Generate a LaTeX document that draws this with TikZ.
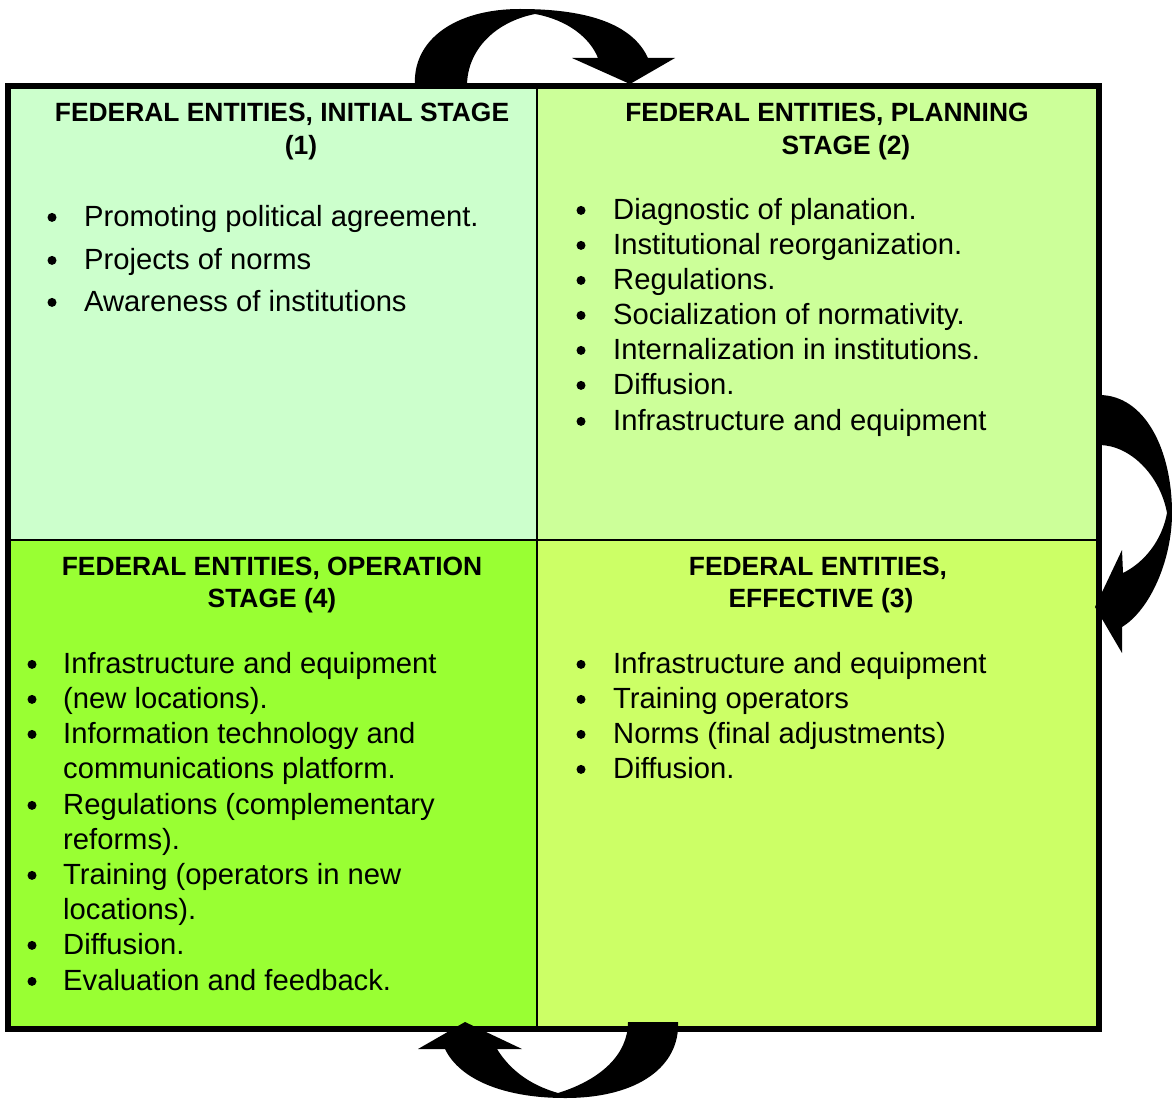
\documentclass[tikz,border=0pt]{standalone}
\usepackage{fontspec}
\setmainfont{Liberation Sans}
\definecolor{cTL}{HTML}{CCFFCC}
\definecolor{cTR}{HTML}{CCFF99}
\definecolor{cBL}{HTML}{99FF33}
\definecolor{cBR}{HTML}{CCFF66}
\begin{document}
\begin{tikzpicture}[x=1pt,y=-1pt,
  cell/.style={draw=black, line width=2pt, anchor=north west, inner sep=0pt, outer sep=0pt},
  ttl/.style={font=\fontsize{26.4}{30}\selectfont\bfseries, anchor=base, inner sep=0pt},
  itm/.style={font=\fontsize{29.2}{34}\selectfont, anchor=base west, inner sep=0pt},
  blt/.style={circle, fill=black, inner sep=0pt, minimum size=9pt, yshift=8.6pt},
  bigarrow/.style={fill=black}]
\useasboundingbox (0,0) rectangle (1172,1102);
% cells
\node[cell, fill=cTL, minimum width=529pt, minimum height=454pt] (tl) at (8,86) {};
\node[cell, fill=cTR, minimum width=562pt, minimum height=454pt] (tr) at (537,86) {};
\node[cell, fill=cBL, minimum width=529pt, minimum height=489pt] (bl) at (8,540) {};
\node[cell, fill=cBR, minimum width=562pt, minimum height=489pt] (br) at (537,540) {};
\draw[line width=6pt, line join=miter] (tl.north west) rectangle (br.south east);
% titles
\node[ttl] (tlt1) at (282,121.7) {FEDERAL ENTITIES, INITIAL STAGE};
\node[ttl] (tlt2) at (301,154.3) {(1)};
\node[ttl] (trt1) at (827,121.7) {FEDERAL ENTITIES, PLANNING};
\node[ttl] (trt2) at (846,154.3) {STAGE (2)};
\node[ttl] (blt1) at (272,575) {FEDERAL ENTITIES, OPERATION};
\node[ttl] (blt2) at (272,607.5) {STAGE (4)};
\node[ttl] (brt1) at (818,575) {FEDERAL ENTITIES,};
\node[ttl] (brt2) at (821,607.5) {EFFECTIVE (3)};
% top-left list
\node[blt] (tlb1) at (52,226) {};
\node[itm] (tli1) at (84,226) {Promoting political agreement.};
\node[blt] (tlb2) at (52,269) {};
\node[itm] (tli2) at (84,269) {Projects of norms};
\node[blt] (tlb3) at (52,311) {};
\node[itm] (tli3) at (84,311) {Awareness of institutions};
% top-right list
\node[blt] (trb1) at (581,219) {};
\node[itm] (tri1) at (613,219) {Diagnostic of planation.};
\node[blt] (trb2) at (581,254) {};
\node[itm] (tri2) at (613,254) {Institutional reorganization.};
\node[blt] (trb3) at (581,289) {};
\node[itm] (tri3) at (613,289) {Regulations.};
\node[blt] (trb4) at (581,324) {};
\node[itm] (tri4) at (613,324) {Socialization of normativity.};
\node[blt] (trb5) at (581,359) {};
\node[itm] (tri5) at (613,359) {Internalization in institutions.};
\node[blt] (trb6) at (581,394) {};
\node[itm] (tri6) at (613,394) {Diffusion.};
\node[blt] (trb7) at (581,430) {};
\node[itm] (tri7) at (613,430) {Infrastructure and equipment};
% bottom-left list
\node[blt] (blb1) at (32,673) {};
\node[itm] (bli1) at (63,673) {Infrastructure and equipment};
\node[blt] (blb2) at (32,708) {};
\node[itm] (bli2) at (63,708) {(new locations).};
\node[blt] (blb3) at (32,743) {};
\node[itm] (bli3) at (63,743) {Information technology and};
\node[itm] (bli3b) at (63,778) {communications platform.};
\node[blt] (blb4) at (32,814) {};
\node[itm] (bli4) at (63,814) {Regulations (complementary};
\node[itm] (bli4b) at (63,849) {reforms).};
\node[blt] (blb5) at (32,884) {};
\node[itm] (bli5) at (63,884) {Training (operators in new};
\node[itm] (bli5b) at (63,919) {locations).};
\node[blt] (blb6) at (32,954) {};
\node[itm] (bli6) at (63,954) {Diffusion.};
\node[blt] (blb7) at (32,990) {};
\node[itm] (bli7) at (63,990) {Evaluation and feedback.};
% bottom-right list
\node[blt] (brb1) at (581,673) {};
\node[itm] (bri1) at (613,673) {Infrastructure and equipment};
\node[blt] (brb2) at (581,708) {};
\node[itm] (bri2) at (613,708) {Training operators};
\node[blt] (brb3) at (581,743) {};
\node[itm] (bri3) at (613,743) {Norms (final adjustments)};
\node[blt] (brb4) at (581,778) {};
\node[itm] (bri4) at (613,778) {Diffusion.};
% top curved arrow
\fill[bigarrow] (415,86) .. controls (412,40) and (455,9) .. (520,9)
  .. controls (600,9) and (635,30) .. (648,58) -- (675,58) -- (630,84) -- (572,58) -- (598,58)
  .. controls (590,38) and (568,20) .. (535,14)
  .. controls (495,22) and (467,50) .. (467,86) -- cycle;
% right curved arrow
\fill[bigarrow] (1099,395) .. controls (1145,395) and (1172,450) .. (1172,513)
  .. controls (1172,560) and (1150,610) .. (1122,627) -- (1122,653) -- (1095,607) -- (1122,550) -- (1123,573)
  .. controls (1145,562) and (1162,540) .. (1167,513)
  .. controls (1160,475) and (1130,445) .. (1099,445) -- cycle;
% bottom curved arrow
\fill[bigarrow] (678,1022) .. controls (680,1065) and (640,1098) .. (565,1098)
  .. controls (505,1098) and (460,1080) .. (445,1049) -- (418,1049) -- (465,1022) -- (522,1049) -- (497,1049)
  .. controls (510,1070) and (530,1085) .. (558,1093)
  .. controls (600,1080) and (628,1055) .. (628,1022) -- cycle;
\end{tikzpicture}
\end{document}
